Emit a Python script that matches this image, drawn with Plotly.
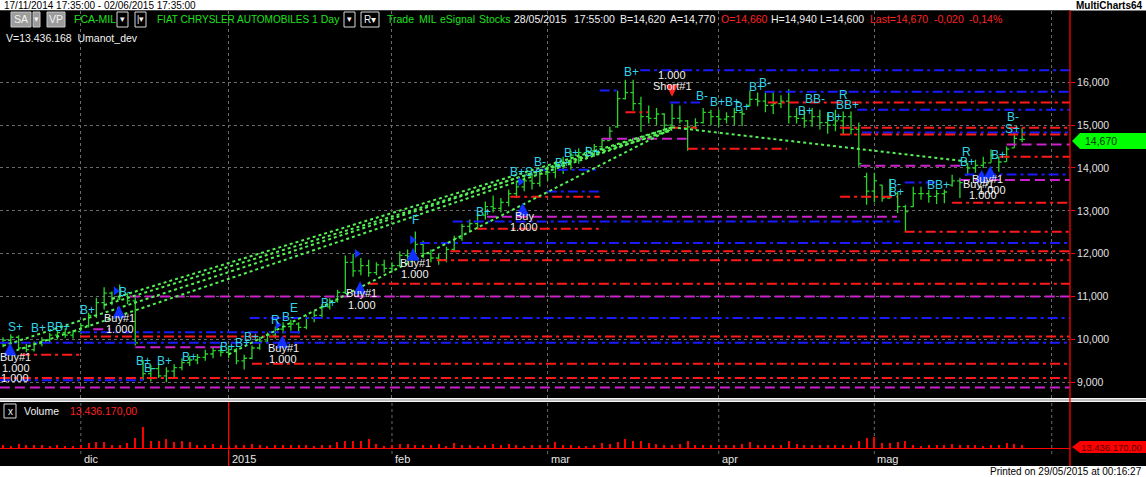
import plotly.graph_objects as go
import pandas as pd

W, H = 1146, 477

# ---------------- data ----------------
holidays = ["2014-12-24", "2014-12-25", "2014-12-26", "2014-12-31",
            "2015-01-01", "2015-04-03", "2015-04-06"]
dates = [d for d in pd.bdate_range("2014-11-17", "2015-05-28")
         if d.strftime("%Y-%m-%d") not in holidays]

opens = [9.92, 9.98, 10.05, 9.80, 9.76, 9.90, 9.98, 10.10, 10.16, 10.10,
         10.18, 10.32, 10.56, 10.86, 11.08, 10.94, 11.05, 10.90, 9.50, 9.20,
         9.32, 9.15, 9.26, 9.34, 9.46, 9.52, 9.58, 9.66, 9.74, 9.70,
         9.76, 9.50, 9.56, 9.80, 9.96, 10.10, 10.24, 10.30, 10.36, 10.28,
         10.50, 10.56, 10.76, 10.90, 11.10, 11.80, 11.60, 11.72, 11.56, 11.74,
         11.66, 11.72, 11.96, 11.94, 12.22, 12.00, 11.90, 11.86, 12.10, 12.36,
         12.64, 12.70, 12.90, 13.10, 13.06, 13.20, 13.40, 13.56, 13.70, 13.64,
         13.86, 13.90, 14.06, 14.10, 14.30, 14.36, 14.40, 14.50, 14.64, 14.96,
         15.62, 15.76, 15.50, 15.20, 15.16, 15.26, 15.00, 15.16, 15.10, 14.96,
         15.06, 15.30, 15.20, 15.14, 15.20, 15.30, 15.46, 15.60, 15.56, 15.46,
         15.50, 15.56, 15.20, 15.16, 15.10, 15.20, 15.06, 15.00, 15.10, 15.20,
         14.90, 13.80, 13.46, 13.60, 13.30, 13.40, 13.10, 13.10, 13.40, 13.40,
         13.34, 13.40, 13.60, 13.70, 13.84, 14.00, 14.06, 14.12, 14.24, 14.15,
         14.47, 14.66]
highs = [10.05, 10.12, 10.10, 9.90, 9.95, 10.05, 10.15, 10.22, 10.26, 10.22,
         10.38, 10.62, 10.97, 11.22, 11.12, 11.28, 11.08, 10.98, 9.52, 9.40,
         9.45, 9.35, 9.42, 9.56, 9.62, 9.66, 9.76, 9.82, 9.86, 9.86,
         9.80, 9.64, 9.86, 10.06, 10.16, 10.30, 10.40, 10.46, 10.40, 10.56,
         10.66, 10.82, 10.96, 11.16, 11.96, 12.00, 11.90, 11.86, 11.80, 11.86,
         11.80, 12.06, 12.10, 12.52, 12.30, 12.10, 12.00, 12.16, 12.42, 12.70,
         12.80, 12.96, 13.22, 13.36, 13.30, 13.50, 13.70, 13.80, 13.86, 13.96,
         14.06, 14.16, 14.26, 14.40, 14.46, 14.50, 14.56, 14.70, 14.96, 15.80,
         16.06, 16.06, 15.66, 15.46, 15.40, 15.28, 15.50, 15.46, 15.12, 15.16,
         15.40, 15.36, 15.36, 15.30, 15.40, 15.36, 15.80, 15.76, 15.76, 15.76,
         15.70, 15.84, 15.40, 15.36, 15.40, 15.36, 15.30, 15.36, 15.32, 15.32,
         15.06, 13.89, 13.89, 13.61, 13.75, 13.44, 13.14, 13.56, 13.56, 13.49,
         13.49, 13.50, 13.84, 13.77, 14.12, 14.19, 14.26, 14.43, 14.26, 14.50,
         14.82, 14.94]
lows = [9.82, 9.88, 9.76, 9.70, 9.72, 9.84, 9.94, 10.00, 10.04, 10.02,
        10.12, 10.28, 10.50, 10.70, 10.80, 10.92, 10.82, 9.86, 9.05, 9.02,
        9.10, 9.00, 9.12, 9.28, 9.38, 9.42, 9.50, 9.56, 9.60, 9.56,
        9.42, 9.30, 9.54, 9.76, 9.90, 10.02, 10.14, 10.20, 10.14, 10.24,
        10.40, 10.50, 10.70, 10.86, 11.06, 11.46, 11.50, 11.46, 11.50, 11.56,
        11.56, 11.70, 11.80, 11.90, 11.90, 11.80, 11.74, 11.80, 12.04, 12.30,
        12.50, 12.60, 12.80, 12.96, 12.96, 13.10, 13.30, 13.46, 13.50, 13.56,
        13.70, 13.76, 13.86, 13.96, 14.10, 14.20, 14.26, 14.40, 14.64, 14.94,
        15.60, 15.34, 14.84, 15.04, 15.00, 14.90, 14.98, 15.04, 14.40, 14.90,
        15.04, 15.00, 14.96, 15.04, 15.00, 14.98, 15.44, 15.44, 15.30, 15.26,
        15.40, 15.04, 15.04, 14.94, 14.96, 14.90, 14.80, 14.86, 14.78, 14.78,
        14.03, 13.14, 13.20, 13.21, 13.28, 12.95, 12.51, 13.09, 13.26, 13.19,
        13.16, 13.18, 13.56, 13.30, 13.84, 13.89, 14.00, 14.12, 13.91, 14.15,
        14.47, 14.60]
closes = [9.98, 10.05, 9.80, 9.76, 9.90, 9.98, 10.10, 10.16, 10.10, 10.18,
          10.32, 10.56, 10.86, 11.08, 10.94, 11.12, 10.90, 9.92, 9.20, 9.32,
          9.15, 9.26, 9.34, 9.46, 9.52, 9.58, 9.66, 9.74, 9.70, 9.76,
          9.50, 9.56, 9.80, 9.96, 10.10, 10.24, 10.30, 10.36, 10.28, 10.50,
          10.56, 10.76, 10.90, 11.10, 11.80, 11.60, 11.72, 11.56, 11.74, 11.66,
          11.72, 11.96, 11.94, 12.22, 12.00, 11.90, 11.86, 12.10, 12.36, 12.64,
          12.70, 12.90, 13.10, 13.06, 13.20, 13.40, 13.56, 13.70, 13.64, 13.86,
          13.90, 14.06, 14.10, 14.30, 14.36, 14.40, 14.50, 14.64, 14.86, 15.62,
          15.76, 15.50, 15.20, 15.16, 15.26, 15.00, 15.16, 15.10, 14.96, 15.06,
          15.30, 15.20, 15.14, 15.20, 15.30, 15.26, 15.60, 15.56, 15.46, 15.50,
          15.56, 15.20, 15.16, 15.10, 15.20, 15.06, 15.00, 15.10, 15.20, 14.90,
          14.10, 13.46, 13.70, 13.30, 13.50, 13.10, 12.98, 13.40, 13.40, 13.34,
          13.40, 13.44, 13.70, 13.66, 14.00, 14.06, 14.12, 14.30, 14.14, 14.44,
          14.69, 14.67]
volumes_m = [13.4, 11.8, 20.2, 13.4, 13.4, 13.4, 11.8, 13.4, 8.4, 11.8,
             16.8, 25.2, 28.6, 28.6, 16.8, 16.8, 25.2, 50.4, 107.5, 33.6,
             37.0, 45.4, 30.2, 33.6, 30.2, 13.4, 16.8, 20.2, 13.4, 10.1,
             16.8, 16.8, 20.2, 16.8, 11.8, 16.8, 16.8, 13.4, 16.8, 13.4,
             11.8, 13.4, 16.8, 30.2, 33.6, 33.6, 33.6, 45.4, 20.2, 11.8,
             16.8, 20.2, 20.2, 16.8, 16.8, 16.8, 20.2, 11.8, 25.2, 16.8,
             13.4, 11.8, 13.4, 20.2, 16.8, 20.2, 13.4, 11.8, 13.4, 16.8,
             13.4, 30.2, 13.4, 13.4, 11.8, 11.8, 13.4, 25.2, 20.2, 30.2,
             45.4, 37.0, 33.6, 25.2, 20.2, 16.8, 16.8, 20.2, 33.6, 16.8,
             16.8, 13.4, 16.8, 13.4, 16.8, 20.2, 30.2, 16.8, 16.8, 13.4,
             16.8, 37.0, 20.2, 13.4, 16.8, 13.4, 13.4, 13.4, 16.8, 16.8,
             37.0, 50.4, 53.8, 25.2, 25.2, 30.2, 33.6, 16.8, 11.8, 13.4,
             13.4, 16.8, 20.2, 16.8, 16.8, 13.4, 11.8, 13.4, 13.4, 25.2,
             20.2, 13.4]
assert len(dates) == len(opens) == len(highs) == len(lows) == len(closes) == len(volumes_m) == 132
idx = list(range(len(dates)))

price_ticks = [9, 10, 11, 12, 13, 14, 15, 16]
price_ticktext = ["9,000", "10,000", "11,000", "12,000", "13,000", "14,000", "15,000", "16,000"]
month_names = {12: "dic", 1: "2015", 2: "feb", 3: "mar", 4: "apr", 5: "mag"}

# horizontal levels (price, start bar, end bar)
blue_levels = [16.28, 15.78, 15.36, 14.83, 15.53, 15.81, 13.85, 13.66, 12.75, 12.25, 13.45, 13.96, 10.50, 10.17, 9.92, 9.05]
blue_start = [81.9, 97.9, 109.8, 110.4, 85.7, 76.7, 123.6, 115.9, 57.8, 53.6, 69.9, 68.6, 31.7, 9.9, -0.4, -0.4]
blue_end = [137.2, 137.2, 137.2, 137.2, 89.6, 79.3, 137.2, 119.8, 115.3, 137.2, 76.7, 76.7, 137.2, 38.2, 137.2, 18.3]
red_levels = [15.53, 15.30, 14.94, 14.94, 14.45, 14.78, 14.26, 13.33, 13.33, 13.19, 12.51, 12.58, 12.06, 11.85, 11.30, 10.07, 9.64, 9.43, 9.10]
red_start = [98.3, 80.0, 85.7, 107.6, 88.0, 107.6, 128.1, 107.6, 65.2, 122.0, 115.9, 60.9, 57.5, 55.8, 46.9, 9.9, 2.2, 32.0, -0.4]
red_end = [137.2, 82.9, 89.2, 137.2, 100.8, 137.2, 137.2, 114.9, 76.7, 137.2, 137.2, 76.7, 137.2, 137.2, 137.2, 137.2, 9.9, 137.2, 137.2]
mag_levels = [14.68, 14.55, 14.05, 13.72, 12.86, 11.00, 10.24, 9.82, 8.88]
mag_start = [77.0, 129.0, 110.2, 123.0, 62.2, 16.3, 11.6, 17.0, -0.4]
mag_end = [87.9, 137.2, 123.4, 137.2, 114.9, 137.2, 13.8, 27.9, 137.2]

# dotted trend lines
trend_x0 = [0, 1, 14, 13, 29, 86]
trend_y0 = [9.85, 9.70, 10.95, 10.80, 9.65, 14.95]
trend_x1 = [86, 86, 86, 86, 86, 124]
trend_y1 = [14.95, 14.90, 14.95, 14.88, 14.92, 14.15]

# signal labels
sig_text = ["S+", "B+", "BB+", "B+", "B-", "B+", "B-", "B+", "B+", "B+", "B+", "B+", "R", "E", "B-",
            "B+", "F", "B+", "B+", "S+", "B-", "B+", "B+", "B+", "B+", "B-", "B+", "B+", "B+",
            "B+", "B-", "B+", "BB-", "R", "BB+", "B+", "B-", "B+", "BB+", "R", "B+", "B+", "B-", "S+"]
sig_x = [1.6, 4.5, 7.07, 10.9, 15.7, 18.0, 18.9, 20.8, 24.0, 28.9, 30.8, 32.0, 35.0, 37.4, 36.6,
         41.8, 53.0, 61.7, 66.1, 68.0, 69.0, 71.9, 73.1, 75.8, 80.8, 89.8, 91.9, 93.8, 95.0,
         96.9, 97.9, 103.1, 104.4, 108.0, 108.6, 106.9, 114.7, 114.9, 120.2, 123.9, 124.0, 127.9, 129.8, 129.8]
sig_y = [10.29, 10.27, 10.29, 10.69, 11.11, 9.50, 9.33, 9.50, 9.59, 9.82, 9.92, 10.06, 10.45, 10.73, 10.53,
         10.85, 12.79, 12.98, 13.91, 13.91, 14.15, 14.12, 14.36, 14.38, 16.23, 15.67, 15.55, 15.55, 15.43,
         15.88, 15.99, 15.32, 15.60, 15.71, 15.48, 15.20, 13.62, 13.43, 13.61, 14.38, 14.15, 14.31, 15.18, 14.92]

order_text = ["Buy#1", "1.000", "1.000", "Buy#1", "1.000", "Buy#1", "1.000", "Buy#1", "1.000",
              "Buy#1", "1.000", "Buy", "1.000", "1.000", "Short#1", "Buy#1", "Buy#1", "1.000", "1.000"]
order_x = [1.6, 1.7, 1.5, 15.0, 15.0, 36.0, 36.0, 46.1, 46.1, 53.0, 53.0, 67.0, 67.0, 86.0, 86.0,
           126.5, 125.4, 127.1, 126.0]
order_y = [9.59, 9.33, 9.10, 10.50, 10.24, 9.80, 9.54, 11.09, 10.81, 11.79, 11.53, 12.88, 12.63, 16.18, 15.92,
           13.75, 13.63, 13.49, 13.38]

buy_arrow_x = [0.9, 14.9, 35.9, 45.9, 52.7, 66.8, 125.8, 126.9]
buy_arrow_y = [9.92, 10.80, 10.10, 11.36, 12.14, 13.19, 13.96, 14.05]
short_arrow_x = [86.0]
short_arrow_y = [15.66]
tri_x = [14.5, 35.3, 45.5, 52.6, 66.5]
tri_y = [11.13, 10.34, 12.00, 12.32, 13.68]

# ---------------- helpers ----------------
def PX(x):
    return x / W

def PY(y):
    return 1 - y / H

FONT = "Liberation Sans, Arial, sans-serif"
GREEN_BAR = "#2ad42a"
CYAN = "#33d3ea"

fig = go.Figure()

def add_levels(levels, starts, ends, color, dash, width):
    for p, s, e in zip(levels, starts, ends):
        fig.add_trace(go.Scatter(x=[s, e], y=[p, p], mode="lines",
                                 line=dict(color=color, dash=dash, width=width),
                                 hoverinfo="skip", showlegend=False, xaxis="x", yaxis="y"))

add_levels(mag_levels, mag_start, mag_end, "#cc22cc", "10px,5px", 2)
add_levels(blue_levels, blue_start, blue_end, "#1a1aff", "10px,4px,3px,4px", 2)
add_levels(red_levels, red_start, red_end, "#ff1a1a", "10px,4px,3px,4px", 2)

for x0, y0, x1, y1 in zip(trend_x0, trend_y0, trend_x1, trend_y1):
    fig.add_trace(go.Scatter(x=[x0, x1], y=[y0, y1], mode="lines",
                             line=dict(color="#55f055", dash="dot", width=2),
                             hoverinfo="skip", showlegend=False, xaxis="x", yaxis="y"))

fig.add_trace(go.Ohlc(x=idx, open=opens, high=highs, low=lows, close=closes,
                      increasing=dict(line=dict(color=GREEN_BAR, width=1.3)),
                      decreasing=dict(line=dict(color=GREEN_BAR, width=1.3)),
                      tickwidth=0.35, hoverinfo="skip", showlegend=False,
                      xaxis="x", yaxis="y"))

fig.add_trace(go.Scatter(x=buy_arrow_x, y=buy_arrow_y, mode="markers",
                         marker=dict(symbol="arrow-up", size=13, color="#1030ff"),
                         hoverinfo="skip", showlegend=False, xaxis="x", yaxis="y"))
fig.add_trace(go.Scatter(x=short_arrow_x, y=short_arrow_y, mode="markers",
                         marker=dict(symbol="arrow-down", size=12, color="#ff2020"),
                         hoverinfo="skip", showlegend=False, xaxis="x", yaxis="y"))
fig.add_trace(go.Scatter(x=tri_x, y=tri_y, mode="markers",
                         marker=dict(symbol="triangle-right", size=8, color="#1030ff"),
                         hoverinfo="skip", showlegend=False, xaxis="x", yaxis="y"))

fig.add_trace(go.Bar(x=idx, y=volumes_m, width=0.14, marker=dict(color="#ff0000", line=dict(width=0)),
                     hoverinfo="skip", showlegend=False, xaxis="x2", yaxis="y2"))

# month ticks
month_idx, month_lbl = [], []
prev = None
for i, d in enumerate(dates):
    if prev is not None and d.month != prev:
        month_idx.append(i)
        month_lbl.append(month_names[d.month])
    prev = d.month
grid_x = month_idx + [134.8]

xr = [-0.386, 137.15]
plot_right = 1070 / W

annotations = []
for t, x, y in zip(sig_text, sig_x, sig_y):
    annotations.append(dict(x=x, y=y, xref="x", yref="y", text=t, showarrow=False,
                            font=dict(family=FONT, size=12, color=CYAN)))
for t, x, y in zip(order_text, order_x, order_y):
    annotations.append(dict(x=x, y=y, xref="x", yref="y", text=t, showarrow=False,
                            font=dict(family=FONT, size=11, color="#f0f0f0")))

for i, lbl in zip(month_idx, month_lbl):
    annotations.append(dict(x=i, y=PY(459), xref="x2", yref="paper", text=lbl, showarrow=False,
                            xanchor="left", yanchor="middle", xshift=1,
                            font=dict(family=FONT, size=11, color="#e6e6e6")))

def txt(x, y, t, color, size=10.5, anchor="left", bold=False):
    if bold:
        t = "<b>" + t + "</b>"
    annotations.append(dict(x=PX(x), y=PY(y), xref="paper", yref="paper", text=t, showarrow=False,
                            xanchor=anchor, yanchor="middle",
                            font=dict(family=FONT, size=size, color=color)))

HG = "#1fe01f"
WH = "#f2f2f2"
RD = "#ff2222"
txt(2, 5.5, "17/11/2014 17:35:00 - 02/06/2015 17:35:00", "#000000", 10)
txt(1145, 5.5, "MultiCharts64", "#000000", 10, anchor="right", bold=True)
txt(21, 19.5, "SA", WH, 10.5, anchor="center")
txt(36, 19.5, "▾", WH, 9, anchor="center")
txt(56, 19.5, "VP", WH, 10.5, anchor="center")
txt(72, 19.5, "FCA-MIL", HG)
txt(122.5, 19.5, "▾", WH, 9, anchor="center")
txt(140, 19.5, "|▾", WH, 9, anchor="center")
txt(155, 19.5, "FIAT CHRYSLER AUTOMOBILES", HG, 10)
txt(310, 19.5, "1 Day", HG)
txt(349, 19.5, "▾", WH, 9, anchor="center")
txt(370, 19.5, "R▾", WH, 10, anchor="center")
txt(385, 19.5, "Trade", HG)
txt(417, 19.5, "MIL", HG)
txt(438, 19.5, "eSignal", HG)
txt(477, 19.5, "Stocks", HG)
txt(512, 19.5, "28/05/2015", WH)
txt(572, 19.5, "17:55:00", WH)
txt(618, 19.5, "B=14,620", WH)
txt(668, 19.5, "A=14,770", WH)
txt(719, 19.5, "O=14,660", RD)
txt(769, 19.5, "H=14,940", WH)
txt(818, 19.5, "L=14,600", WH)
txt(868, 19.5, "Last=14,670", RD)
txt(932, 19.5, "-0,020", RD)
txt(967, 19.5, "-0,14%", RD)
txt(4, 38, "V=13.436.168  Umanot_dev", WH)
txt(10, 411, "x", WH, 10, anchor="center")
txt(22, 411, "Volume", WH)
txt(68, 411, "13.436.170,00", RD)
txt(1083, 141, "14,670", "#003000", 10.5)
txt(1079, 447, "13.436.170,00", "#500000", 9.5)
txt(1144, 471, "Printed on 29/05/2015 at 00:16:27", "#000000", 10, anchor="right")

shapes = [
    dict(type="rect", xref="paper", yref="paper", x0=0, x1=1, y0=PY(398), y1=PY(10.5),
         fillcolor="#000000", line=dict(width=0), layer="below"),
    dict(type="rect", xref="paper", yref="paper", x0=0, x1=1, y0=PY(466), y1=PY(402),
         fillcolor="#000000", line=dict(width=0), layer="below"),
    dict(type="rect", xref="paper", yref="paper", x0=0, x1=1, y0=PY(402), y1=PY(398),
         fillcolor="#f4f4f4", line=dict(width=0), layer="above"),
    dict(type="line", xref="paper", yref="paper", x0=0, x1=1, y0=PY(400), y1=PY(400),
         line=dict(color="#8a8a8a", width=1), layer="above"),
    dict(type="line", xref="paper", yref="paper", x0=plot_right, x1=plot_right, y0=PY(466), y1=PY(10.5),
         line=dict(color="#ff0000", width=1.3), layer="above"),
]
# header buttons
for x0, x1, fill in [(11, 31, "#9c9c9c"), (33, 40, "#9c9c9c"), (47, 65, "#9c9c9c")]:
    shapes.append(dict(type="rect", xref="paper", yref="paper", x0=PX(x0), x1=PX(x1), y0=PY(27), y1=PY(12),
                       fillcolor=fill, line=dict(color="#c8c8c8", width=1), layer="above"))
for x0, x1 in [(117, 128), (135, 146), (344, 355), (361, 379)]:
    shapes.append(dict(type="rect", xref="paper", yref="paper", x0=PX(x0), x1=PX(x1), y0=PY(27), y1=PY(12),
                       fillcolor="#000000", line=dict(color="#d8d8d8", width=1), layer="above"))
shapes.append(dict(type="rect", xref="paper", yref="paper", x0=PX(4), x1=PX(16), y0=PY(418), y1=PY(404),
                   fillcolor="#000000", line=dict(color="#d8d8d8", width=1), layer="above"))
# volume panel grid
for gx in grid_x:
    if gx == month_idx[1]:
        continue
    shapes.append(dict(type="line", xref="x2", yref="paper", x0=gx, x1=gx, y0=PY(454), y1=PY(402),
                       line=dict(color="#6a6a6a", width=1, dash="dot"), layer="below"))
shapes.append(dict(type="line", xref="x2", yref="paper", x0=month_idx[1], x1=month_idx[1], y0=PY(466), y1=PY(402),
                   line=dict(color="#ff0000", width=1.3), layer="above"))
# last price / volume tags
def tag_path(yc, h):
    return ("M {a},{yc} L {b},{t} L 1,{t} L 1,{bt} L {b},{bt} Z"
            .format(a=PX(1072), b=PX(1080), yc=PY(yc), t=PY(yc - h), bt=PY(yc + h)))
shapes.append(dict(type="path", xref="paper", yref="paper", path=tag_path(141, 8),
                   fillcolor="#00ff00", line=dict(width=0), layer="above"))
shapes.append(dict(type="path", xref="paper", yref="paper", path=tag_path(447, 6),
                   fillcolor="#ff0000", line=dict(width=0), layer="above"))

fig.update_layout(
    width=W, height=H, margin=dict(l=0, r=0, t=0, b=0),
    paper_bgcolor="#ffffff", plot_bgcolor="#000000",
    showlegend=False, hovermode=False, bargap=0,
    xaxis=dict(domain=[0, plot_right], range=xr, anchor="y", showticklabels=False,
               tickvals=grid_x, showgrid=True, gridcolor="#6a6a6a", griddash="dot", gridwidth=1,
               zeroline=False, showline=False, ticks="", rangeslider=dict(visible=False), fixedrange=True),
    yaxis=dict(domain=[PY(398), PY(10.5)], range=[8.633, 17.675], anchor="x", side="right",
               tickvals=price_ticks, ticktext=price_ticktext, automargin=False,
               tickfont=dict(family=FONT, size=10.5, color="#e0e0e0"),
               ticks="outside", ticklen=4, tickcolor="#ff0000", tickwidth=1,
               showgrid=True, gridcolor="#6a6a6a", griddash="dot", gridwidth=1,
               zeroline=False, showline=False, fixedrange=True),
    xaxis2=dict(domain=[0, plot_right], range=xr, anchor="y2", showticklabels=False,
                showgrid=False, zeroline=False, showline=True, linecolor="#ff0000", linewidth=1.3,
                ticks="", fixedrange=True),
    yaxis2=dict(domain=[PY(448), PY(402)], range=[0, 235], anchor="x2", side="right",
                showticklabels=False, showgrid=False, zeroline=False, showline=False,
                ticks="", fixedrange=True),
    annotations=annotations,
    shapes=shapes,
)

fig.write_html("out.html", config={"displayModeBar": False},
               post_script="document.body.style.margin='0px';document.body.style.overflow='hidden';")
